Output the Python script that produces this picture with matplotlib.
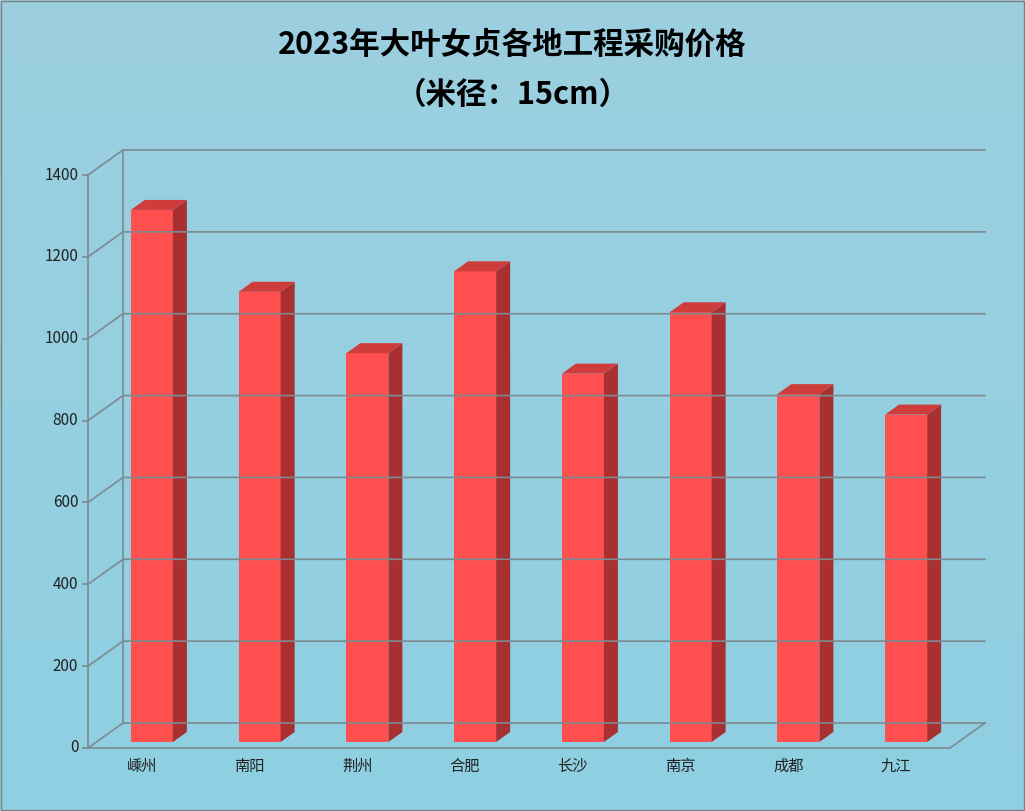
import numpy as np
import matplotlib.pyplot as plt
from matplotlib.patches import Polygon
from matplotlib.lines import Line2D

plt.rcParams['font.family'] = ['Noto Sans CJK SC', 'DejaVu Sans']

cities = ['嵊州', '南阳', '荆州', '合肥', '长沙', '南京', '成都', '九江']
prices = [1300, 1100, 950, 1150, 900, 1050, 850, 800]
yticks = [0, 200, 400, 600, 800, 1000, 1200, 1400]

W, H = 1025, 811
fig = plt.figure(figsize=(W / 100, H / 100), dpi=100)

# background gradient
bg = fig.add_axes([0, 0, 1, 1])
grad = np.linspace(0, 1, 256).reshape(-1, 1)
from matplotlib.colors import LinearSegmentedColormap
cmap = LinearSegmentedColormap.from_list('bg', ['#9ccfe0', '#8ecfe2'])
bg.imshow(grad, aspect='auto', cmap=cmap, extent=[0, 1, 0, 1])
bg.set_axis_off()
bg.add_patch(plt.Rectangle((0.001, 0.001), 0.998, 0.998, fill=False, ec='#7f7f7f', lw=1))

# front plane of the chart
left, right, bottom, top = 88, 950, 748, 175
ax = fig.add_axes([left / W, (H - bottom) / H, (right - left) / W, (bottom - top) / H])
ax.set_xlim(0, len(cities))
ax.set_ylim(0, 1400)
ax.patch.set_alpha(0)
ax.set_axis_off()
fig.canvas.draw()

dx, dy = 35, 25          # wall depth in pixels
bx, by = 10, 6           # bar front offset
ddx, ddy = 14, 10        # bar depth

def px(x, y):
    p = ax.transData.transform((x, y))
    return p[0], p[1]

def line(pts, **kw):
    xs, ys = zip(*pts)
    fig.add_artist(Line2D(xs, ys, transform=None, **kw))

def poly(pts, color):
    fig.add_artist(Polygon(pts, closed=True, transform=None, fc=color, ec='none'))

gc = '#7d8a90'
n = len(cities)
for v in yticks:
    x0, y0 = px(0, v)
    x1, y1 = px(n, v)
    line([(x0, y0), (x0 + dx, y0 + dy), (x1 + dx, y1 + dy)], color=gc, lw=1.2)
    line([(x0 - 5, y0), (x0, y0)], color=gc, lw=1.2)
    ax.text(-0.09, v, str(v), ha='right', va='center', fontsize=11, color='#222222')
x0, y0 = px(0, 0)
x1, y1 = px(n, 0)
xt, yt = px(0, 1400)
line([(x0, y0), (x1, y1), (x1 + dx, y1 + dy)], color=gc, lw=1.2)
line([(x0, y0), (xt, yt)], color=gc, lw=1.2)
line([(x0 + dx, y0 + dy), (xt + dx, yt + dy)], color=gc, lw=1.2)

bw = 0.39
for i, (c, v) in enumerate(zip(cities, prices)):
    xa, ya = px(i + 0.5 - bw / 2, 0)
    xb, yb = px(i + 0.5 + bw / 2, v)
    xa += bx; xb += bx; ya += by; yb += by
    poly([(xa, ya), (xb, ya), (xb, yb), (xa, yb)], '#ff4f4f')
    poly([(xb, ya), (xb + ddx, ya + ddy), (xb + ddx, yb + ddy), (xb, yb)], '#a83030')
    poly([(xa, yb), (xb, yb), (xb + ddx, yb + ddy), (xa + ddx, yb + ddy)], '#cf3c3c')
    ax.text(i + 0.5, -45, c, ha='center', va='center', fontsize=11, color='#222222')

fig.text(0.5, 0.945, '2023年大叶女贞各地工程采购价格', ha='center', va='center',
         fontsize=22, fontweight='bold')
fig.text(0.5, 0.883, '（米径：15cm）', ha='center', va='center',
         fontsize=22, fontweight='bold')

fig.savefig('out.png', dpi=100)
